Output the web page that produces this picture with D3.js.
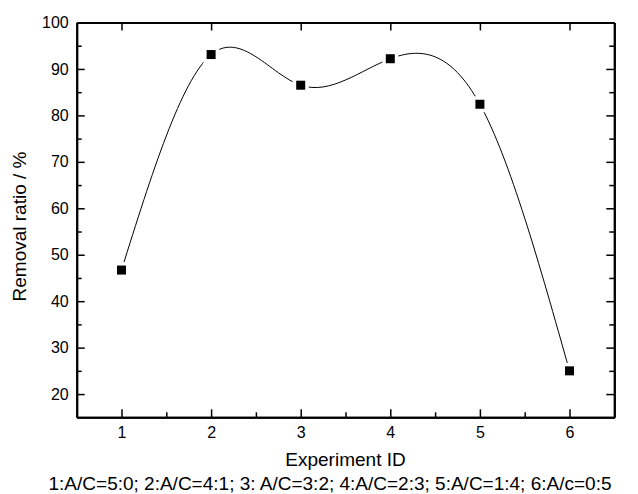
<!DOCTYPE html>
<html>
<head>
<meta charset="utf-8">
<script src="https://cdn.jsdelivr.net/npm/d3@7"></script>
<style>
  body { margin: 0; background: #fff; }
  text { font-family: "Liberation Sans", Arial, sans-serif; fill: #000; }
</style>
</head>
<body>
<div id="chart"></div>
<script>
var svgWidth = 638;
var svgHeight = 494;

var margin = { top: 22.5, bottom: 76.7, left: 76.7, right: 23.7 };
var chartWidth = svgWidth - margin.left - margin.right;
var chartHeight = svgHeight - margin.top - margin.bottom;

// data
var experimentIds = [1, 2, 3, 4, 5, 6];
var removalRatio = [46.7, 93.1, 86.5, 92.2, 82.4, 25.0];
var xTicks = [1, 2, 3, 4, 5, 6];
var yTicks = [20, 30, 40, 50, 60, 70, 80, 90, 100];
var xMinor = [1.5, 2.5, 3.5, 4.5, 5.5];
var yMinor = [25, 35, 45, 55, 65, 75, 85, 95];

var svg = d3.select("#chart")
    .append("svg")
    .attr("width", svgWidth)
    .attr("height", svgHeight);

var chartGroup = svg.append("g")
    .attr("transform", `translate(${margin.left}, ${margin.top})`);

var xScale = d3.scaleLinear().domain([0.5, 6.5]).range([0, chartWidth]);
var yScale = d3.scaleLinear().domain([15, 100]).range([chartHeight, 0]);

var points = experimentIds.map((d, i) => ({ x: d, y: removalRatio[i] }));

// spline through the points
var line = d3.line()
    .x(d => xScale(d.x))
    .y(d => yScale(d.y))
    .curve(d3.curveNatural);

chartGroup.append("path")
    .datum(points)
    .attr("d", line)
    .attr("fill", "none")
    .attr("stroke", "#000")
    .attr("stroke-width", 1);

// white gap round symbols, then the symbols
chartGroup.selectAll(".gap")
    .data(points)
    .enter()
    .append("rect")
    .attr("x", d => xScale(d.x) - 8)
    .attr("y", d => yScale(d.y) - 8)
    .attr("width", 16)
    .attr("height", 16)
    .attr("fill", "#fff");

chartGroup.selectAll(".pt")
    .data(points)
    .enter()
    .append("rect")
    .attr("x", d => xScale(d.x) - 4.5)
    .attr("y", d => yScale(d.y) - 4.5)
    .attr("width", 9)
    .attr("height", 9)
    .attr("fill", "#000");

// axes, ticks inward
var bottomAxis = d3.axisBottom(xScale).tickValues(xTicks).tickSize(-8).tickSizeOuter(0).tickPadding(9).tickFormat(d3.format("d"));
var leftAxis = d3.axisLeft(yScale).tickValues(yTicks).tickSize(-8).tickSizeOuter(0).tickPadding(8);

var xAxis = chartGroup.append("g")
    .attr("transform", `translate(0, ${chartHeight})`)
    .call(bottomAxis);
var yAxis = chartGroup.append("g").call(leftAxis);

chartGroup.append("g")
    .attr("transform", `translate(0, ${chartHeight})`)
    .call(d3.axisBottom(xScale).tickValues(xMinor).tickSize(-5).tickSizeOuter(0).tickFormat(""));
chartGroup.append("g")
    .call(d3.axisLeft(yScale).tickValues(yMinor).tickSize(-5).tickSizeOuter(0).tickFormat(""));
chartGroup.append("g")
    .call(d3.axisTop(xScale).tickValues(xTicks).tickSize(-8).tickSizeOuter(0).tickFormat(""));
chartGroup.append("g")
    .attr("transform", `translate(${chartWidth}, 0)`)
    .call(d3.axisRight(yScale).tickValues(yTicks).tickSize(-8).tickSizeOuter(0).tickFormat(""));
chartGroup.append("g")
    .attr("transform", `translate(${chartWidth}, 0)`)
    .call(d3.axisRight(yScale).tickValues(yMinor).tickSize(-5).tickSizeOuter(0).tickFormat(""));

chartGroup.selectAll(".domain").attr("stroke-width", 2).attr("stroke", "#000");
chartGroup.selectAll(".tick line").attr("stroke-width", 1.5).attr("stroke", "#000");
chartGroup.selectAll(".tick text").style("font-size", "16px").style("font-family", "Liberation Sans, Arial, sans-serif");

// labels
svg.append("text")
    .attr("x", margin.left + chartWidth / 2)
    .attr("y", 466)
    .attr("text-anchor", "middle")
    .style("font-size", "19px")
    .text("Experiment ID");

svg.append("text")
    .attr("x", 330)
    .attr("y", 490)
    .attr("text-anchor", "middle")
    .style("font-size", "19px")
    .text("1:A/C=5:0; 2:A/C=4:1; 3: A/C=3:2; 4:A/C=2:3; 5:A/C=1:4; 6:A/c=0:5");

svg.append("text")
    .attr("transform", "rotate(-90)")
    .attr("x", -226.5)
    .attr("y", 26)
    .attr("text-anchor", "middle")
    .style("font-size", "19px")
    .text("Removal ratio / %");
</script>
</body>
</html>
